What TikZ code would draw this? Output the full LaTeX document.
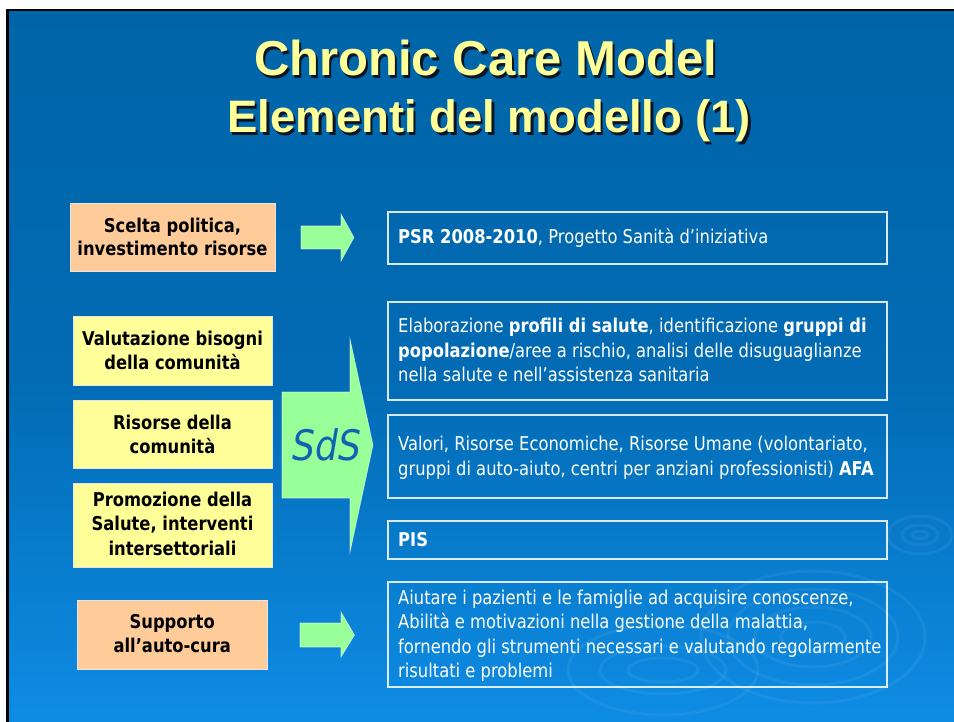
\documentclass[tikz,border=0pt]{standalone}
\usepackage{fontspec}
\newfontfamily\tah{DejaVu Sans}[FakeStretch=0.86]
\newfontfamily\ttl{Liberation Sans}
\definecolor{bgtop}{RGB}{0,101,168}
\definecolor{bgmid}{RGB}{2,107,180}
\definecolor{bgbot}{RGB}{14,140,228}
\definecolor{peach}{RGB}{255,204,153}
\definecolor{paleyel}{RGB}{255,255,153}
\definecolor{mint}{RGB}{153,255,153}
\definecolor{titleyel}{RGB}{255,255,153}
\definecolor{sdsblue}{RGB}{16,98,178}
\definecolor{shadowc}{RGB}{10,20,35}
\tikzset{
  lbox/.style={draw=white!80!gray, line width=0.8pt, minimum width=199pt, minimum height=68pt, inner sep=0pt},
  ltext/.style={anchor=north, inner sep=0pt, align=center, text=black, font=\tah\bfseries\fontsize{19}{23.5}\selectfont},
  rbox/.style={draw=white, draw opacity=0.85, line width=1.1pt, minimum width=499pt, inner sep=0pt},
  rtext/.style={anchor=north west, inner sep=0pt, align=left, text=white, font=\tah\fontsize{19}{24.5}\selectfont},
  blockarrow/.style={fill=mint, draw=white, draw opacity=0.6, line width=0.6pt, line join=miter},
  ttlshadow/.style={anchor=base, text=shadowc},
  ttlmain/.style={anchor=base, text=titleyel},
  ripple/.style={draw=white, draw opacity=0.06, line width=3pt}
}
\begin{document}
\begin{tikzpicture}[x=1pt,y=-1pt]
\useasboundingbox (0,0) rectangle (954,722);
% background
\fill[white] (0,0) rectangle (954,722);
\fill[black] (6,9) rectangle (954,722);
\shade[top color=bgtop, bottom color=bgmid] (9,12) rectangle (954,381);
\shade[top color=bgmid, bottom color=bgbot] (9,380) rectangle (954,722);
% ripples
\draw[ripple] (813,637) ellipse [x radius=112, y radius=66];
\draw[ripple] (813,637) ellipse [x radius=85, y radius=48];
\draw[ripple] (813,637) ellipse [x radius=58, y radius=30];
\draw[ripple] (813,637) ellipse [x radius=32, y radius=15];
\draw[ripple] (663,670) ellipse [x radius=95, y radius=45];
\draw[ripple] (663,670) ellipse [x radius=63, y radius=24];
\draw[ripple] (663,670) ellipse [x radius=35, y radius=12];
\draw[ripple] (920,535) ellipse [x radius=32, y radius=19];
\draw[ripple] (920,535) ellipse [x radius=18, y radius=10];
\draw[ripple] (920,535) ellipse [x radius=8, y radius=4];
% title
\node[ttlshadow, font=\ttl\bfseries\fontsize{49}{49}\selectfont] (t1s) at (488,78.5) {Chronic Care Model};
\node[ttlmain, font=\ttl\bfseries\fontsize{49}{49}\selectfont] (t1) at (485.5,76) {Chronic Care Model};
\node[ttlshadow, font=\ttl\bfseries\fontsize{45.5}{45.5}\selectfont] (t2s) at (491.5,135.5) {Elementi del modello (1)};
\node[ttlmain, font=\ttl\bfseries\fontsize{45.5}{45.5}\selectfont] (t2) at (489,133) {Elementi del modello (1)};
% left boxes
\node[lbox, fill=peach, minimum width=205pt] (scelta) at (172.5,237) {};
\node[lbox, fill=paleyel, minimum height=69pt] (valut) at (172.5,350.5) {};
\node[lbox, fill=paleyel] (risorse) at (172.5,434) {};
\node[lbox, fill=paleyel, minimum height=84pt] (promo) at (172.5,525) {};
\node[lbox, fill=peach, minimum width=190pt, minimum height=69pt] (supp) at (172.2,634.5) {};
\node[ltext, font=\tah\bfseries\fontsize{19}{22.5}\selectfont] (scelta-t) at (172.5,232.7-15.75) {\strut Scelta politica,\\ \strut investimento risorse\strut};
\node[ltext] (valut-t) at (172.5,345.5-16.45) {\strut Valutazione bisogni\\ \strut della comunità\strut};
\node[ltext] (risorse-t) at (172.5,429.3-16.45) {\strut Risorse della\\ \strut comunità\strut};
\node[ltext, font=\tah\bfseries\fontsize{19}{24.3}\selectfont] (promo-t) at (172.5,506.3-17.01) {\strut Promozione della\\ \strut Salute, interventi\\ \strut intersettoriali\strut};
\node[ltext] (supp-t) at (172.2,628.3-16.45) {\strut Supporto\\ \strut all’auto-cura\strut};
% arrows
\draw[blockarrow] (301,226) -- (341,226) -- (341,214) -- (354,237.5) -- (341,261) -- (341,249) -- (301,249) -- cycle;
\draw[blockarrow] (282,392) -- (350,392) -- (350,339) -- (373,445) -- (350,552) -- (350,498) -- (282,498) -- cycle;
\draw[blockarrow] (300,623) -- (341,623) -- (341,612) -- (354.5,635) -- (341,657) -- (341,647) -- (300,647) -- cycle;
\node[anchor=base, inner sep=0pt, text=sdsblue, font=\tah\itshape\fontsize{42}{42}\selectfont] (sds) at (327,460) {SdS};
% right boxes
\node[rbox, minimum height=52pt] (ba) at (637.5,238) {};
\node[rbox, minimum height=98pt] (bb) at (637.5,351) {};
\node[rbox, minimum height=83pt] (bc) at (637.5,456.5) {};
\node[rbox, minimum height=38pt] (bd) at (637.5,540) {};
\node[rbox, minimum height=105pt] (be) at (637.5,634.5) {};
\node[rtext] (ta) at (398,243.3-17.15) {\strut\textbf{PSR 2008-2010}, Progetto Sanità d’iniziativa\strut};
\node[rtext] (tb) at (398,332.7-17.15) {\strut Elaborazione \textbf{profili di salute}, identificazione \textbf{gruppi di}\\
\strut\textbf{popolazione}/aree a rischio, analisi delle disuguaglianze\\
\strut nella salute e nell’assistenza sanitaria\strut};
\node[rtext] (tc) at (398,450.7-17.15) {\strut Valori, Risorse Economiche, Risorse Umane (volontariato,\\
\strut gruppi di auto-aiuto, centri per anziani professionisti) \textbf{AFA}\strut};
\node[rtext] (td) at (398,546.7-17.15) {\strut\textbf{PIS}\strut};
\node[rtext] (te) at (398,604-17.15) {\strut Aiutare i pazienti e le famiglie ad acquisire conoscenze,\\
\strut Abilità e motivazioni nella gestione della malattia,\\
\strut fornendo gli strumenti necessari e valutando regolarmente\\
\strut risultati e problemi\strut};
\end{tikzpicture}
\end{document}
